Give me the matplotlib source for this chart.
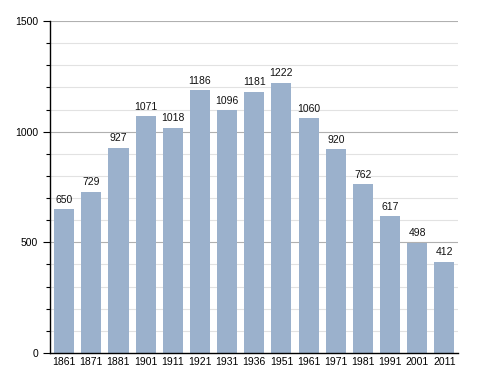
import matplotlib
matplotlib.use("Agg")
import matplotlib.pyplot as plt
from matplotlib.ticker import MultipleLocator

years = ["1861", "1871", "1881", "1901", "1911", "1921", "1931", "1936",
         "1951", "1961", "1971", "1981", "1991", "2001", "2011"]
population = [650, 729, 927, 1071, 1018, 1186, 1096, 1181, 1222, 1060,
              920, 762, 617, 498, 412]

plt.rcParams['font.family'] = ['Liberation Sans', 'DejaVu Sans']

fig = plt.figure(figsize=(4.88, 3.73), dpi=100)
ax = fig.add_axes([50/488, 1-353/373, 408/488, 332/373])

x = list(range(len(years)))
ax.set_xlim(-0.5 - 0.02, len(years) - 0.5)
ax.set_ylim(0, 1500)

# gridlines
for v in range(100, 1501, 100):
    if v % 500 == 0:
        ax.axhline(v, color="#b0b0b0", lw=0.8, zorder=0)
    else:
        ax.axhline(v, color="#e2e2e2", lw=0.8, zorder=0)

ax.bar(x, population, width=0.74, color="#9bb1cc", zorder=2)
for xi, v in zip(x, population):
    ax.text(xi, v + 20, str(v), ha="center", va="bottom", fontsize=7.5, color="#111111", zorder=3)

ax.set_xticks(x)
ax.set_xticklabels(years, fontsize=7.5)
ax.yaxis.set_major_locator(MultipleLocator(500))
ax.yaxis.set_minor_locator(MultipleLocator(100))
ax.tick_params(axis="y", which="major", length=5, width=0.8, labelsize=7.5, direction="out")
ax.tick_params(axis="y", which="minor", length=3, width=0.8, direction="out")
ax.tick_params(axis="x", length=0, pad=3)

for s in ["top", "right"]:
    ax.spines[s].set_visible(False)
ax.spines["left"].set_linewidth(1.0)
ax.spines["bottom"].set_linewidth(1.0)

fig.savefig("out.png", dpi=100)
